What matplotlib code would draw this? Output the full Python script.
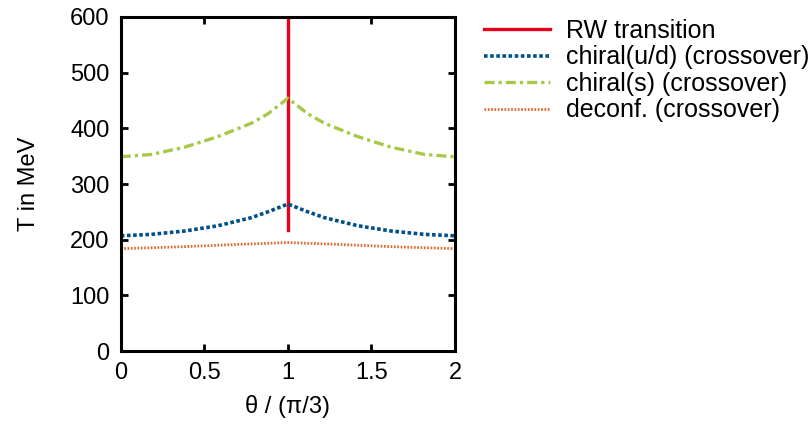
import numpy as np
import matplotlib
matplotlib.use("Agg")
import matplotlib.pyplot as plt

plt.rcParams['font.family'] = ['Liberation Sans', 'DejaVu Sans']

# -----------------------------
# Data
# -----------------------------
theta = [0.0, 0.18, 0.38, 0.58, 0.78, 0.88, 1.0, 1.12, 1.22, 1.42, 1.62, 1.82, 2.0]

chiral_ud = [207, 209.5, 215.5, 225, 239.5, 250, 264, 250, 239.5, 225, 215.5, 209.5, 207]
chiral_s = [349, 353, 366, 385, 409, 426, 454, 426, 409, 385, 366, 353, 349]
deconf = [184, 185.5, 187.5, 190, 192.5, 193.5, 195, 193.5, 192.5, 190, 187.5, 185.5, 184]

rw_theta = [1.0, 1.0]
rw_T = [217, 600]

# -----------------------------
# Plot
# -----------------------------
fig = plt.figure(figsize=(8.11, 4.25), dpi=100)
ax = fig.add_axes([0.149, 0.174, 0.412, 0.786])

ax.plot(rw_theta, rw_T, color='#e8001c', lw=2.4, label='RW transition')
ax.plot(theta, chiral_ud, color='#00508c', lw=2.6, linestyle=(0, (1, 0.7)),
        label='chiral(u/d) (crossover)')
ax.plot(theta, chiral_s, color='#a8c84a', lw=2.4, linestyle=(0, (3, 1.2, 1, 1.2)),
        label='chiral(s) (crossover)')
ax.plot(theta, deconf, color='#e0692a', lw=2.0, linestyle=(0, (0.6, 0.6)),
        label='deconf. (crossover)')

ax.set_xlim(0, 2)
ax.set_ylim(0, 600)
ax.set_xticks([0, 0.5, 1, 1.5, 2])
ax.set_xticklabels(['0', '0.5', '1', '1.5', '2'])
ax.set_yticks(range(0, 601, 100))

ax.tick_params(direction='in', top=True, right=True, length=5, width=2,
               labelsize=17, pad=8)
for s in ax.spines.values():
    s.set_linewidth(2.2)

ax.set_xlabel('θ / (π/3)', fontsize=17, labelpad=8)
ax.set_ylabel('T in MeV', fontsize=17, labelpad=22)

ax.legend(loc='upper left', bbox_to_anchor=(1.035, 1.047), frameon=False,
          fontsize=18, handlelength=2.64, labelspacing=0.1, handletextpad=0.64,
          borderaxespad=0.3)

fig.savefig('out.png', dpi=100)
